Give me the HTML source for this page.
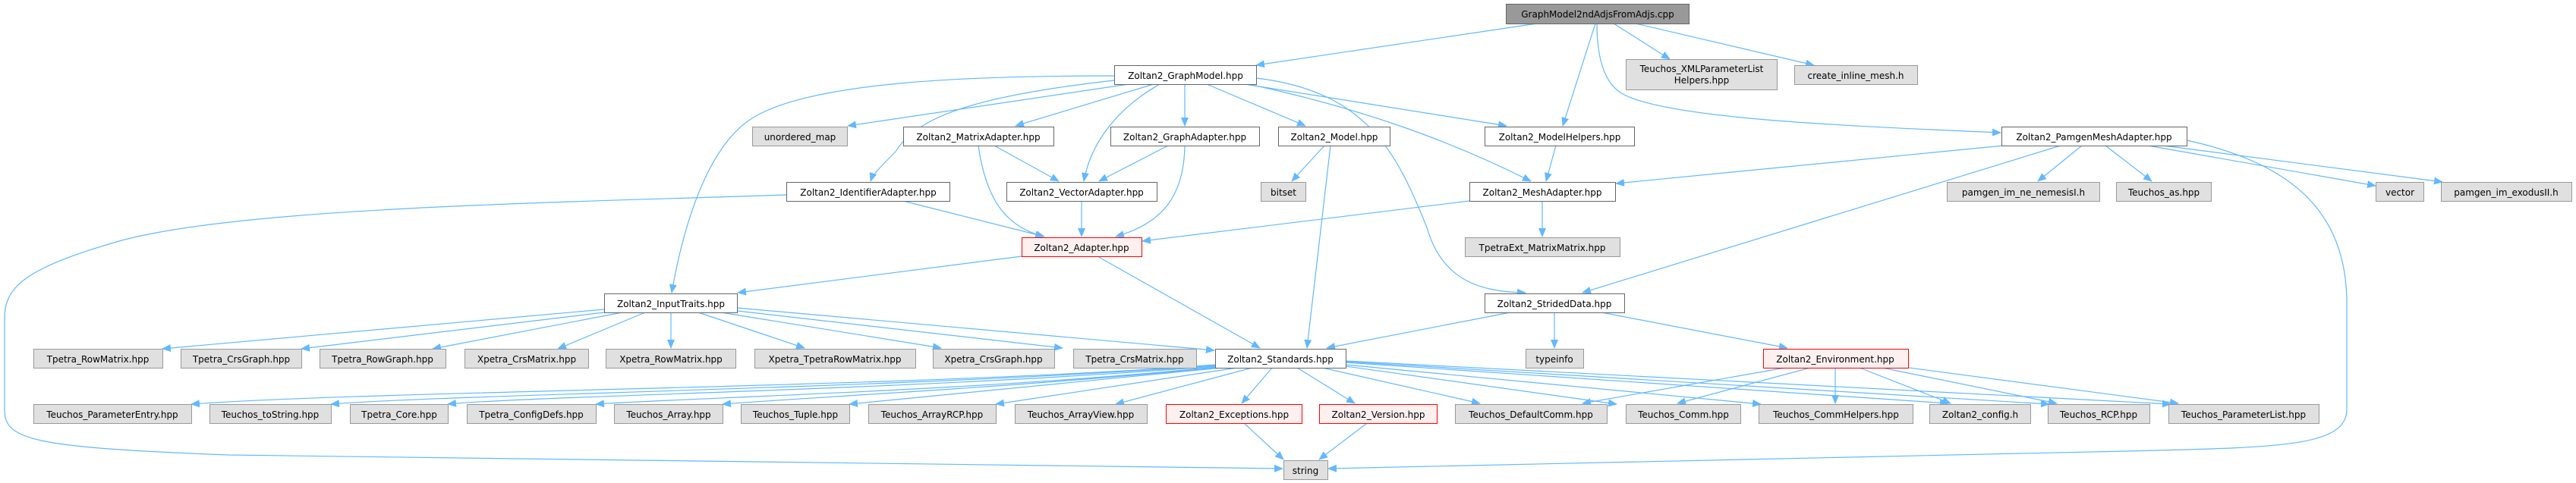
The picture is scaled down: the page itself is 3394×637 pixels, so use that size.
<!DOCTYPE html>
<html><head><meta charset="utf-8"><style>
html,body{margin:0;padding:0;background:#fff;}
svg{display:block;}
text{font-family:"DejaVu Sans","Liberation Sans",sans-serif;font-size:12px;fill:#000;text-anchor:middle;}
.w{fill:#fff;stroke:#666;stroke-width:1}
.g{fill:#e0e0e0;stroke:#999;stroke-width:1}
.r{fill:#fff0f0;stroke:#f00;stroke-width:1}
.k{fill:#999;stroke:#666;stroke-width:1}
path{fill:none;stroke:#63b8ff;stroke-width:1.2;marker-end:url(#a)}
</style></head><body>
<svg width="3394" height="637" viewBox="0 0 3394 637" xmlns="http://www.w3.org/2000/svg">
<defs><marker id="a" markerUnits="userSpaceOnUse" markerWidth="12" markerHeight="10" refX="11" refY="5" orient="auto"><polygon points="0,0 12,5 0,10" fill="#63b8ff"/></marker></defs>

<!-- edges -->
<path d="M2025,31 L1655,86"/>
<path d="M2102,31 L2059,166"/>
<path d="M2126,31 L2200,78"/>
<path d="M2155,31 L2390,86"/>
<path d="M2104,31 C2104,90 2120,115 2140,125 C2200,155 2400,165 2636,175"/>

<path d="M1487,111 L1117,166"/>
<path d="M1520,111 L1338,166"/>
<path d="M1561,111 L1561,166"/>
<path d="M1528,111 C1460,150 1435,200 1428,239"/>
<path d="M1590,111 L1720,166"/>
<path d="M1640,111 L1985,166"/>
<path d="M1645,111 C1780,140 1900,180 2017,239"/>
<path d="M1655,103 C1800,120 1840,200 1880,300 C1900,370 1950,385 2010,386"/>
<path d="M1468,106 C1300,125 1210,150 1180,200 C1160,220 1150,230 1147,239"/>
<path d="M1468,100 C1300,100 1060,105 985,160 C930,200 900,300 885,386"/>

<path d="M1310,192 L1395,239"/>
<path d="M1289,192 C1300,270 1330,300 1375,312"/>
<path d="M1539,192 L1448,239"/>
<path d="M1561,192 C1560,260 1530,295 1470,312"/>
<path d="M1745,192 L1702,239"/>
<path d="M1753,192 L1722,459"/>
<path d="M2050,192 L2037,239"/>

<path d="M2640,192 L2129,242"/>
<path d="M2715,192 L2085,386"/>
<path d="M2743,192 L2685,239"/>
<path d="M2774,192 L2835,239"/>
<path d="M2830,192 L3130,245"/>
<path d="M2835,190 L3218,240"/>
<path d="M2881,185 C3020,215 3092,280 3092,400 L3092,540 C3092,590 3000,590 2800,595 C2400,605 2000,612 1750,618"/>

<path d="M1190,265 L1376,312"/>
<path d="M1036,257 C700,268 300,275 150,320 C30,355 6,380 6,420 L6,540 C6,580 40,590 300,600 C800,608 1300,614 1690,618"/>
<path d="M1425,265 L1425,312"/>
<path d="M1936,265 L1505,318"/>
<path d="M2032,265 L2032,312"/>

<path d="M1346,338 L972,386"/>
<path d="M1446,338 L1660,459"/>

<path d="M796,408 L214,460"/>
<path d="M796,412 L397,460"/>
<path d="M820,412 L570,460"/>
<path d="M850,412 L735,460"/>
<path d="M884,412 L884,459"/>
<path d="M920,412 L1060,459"/>
<path d="M950,412 L1240,459"/>
<path d="M971,410 L1400,459"/>
<path d="M971,406 L1600,462"/>

<path d="M1990,412 L1748,459"/>
<path d="M2048,412 L2048,459"/>
<path d="M2110,412 L2355,459"/>

<path d="M1601,481 C1200,512 500,515 252,533"/>
<path d="M1601,482 C1200,512 600,520 436,533"/>
<path d="M1601,483 C1200,515 700,522 590,533"/>
<path d="M1601,484 C1300,515 900,525 785,533"/>
<path d="M1601,485 C1350,510 1050,525 952,533"/>
<path d="M1610,485 L1119,533"/>
<path d="M1630,485 L1312,533"/>
<path d="M1650,485 L1470,533"/>
<path d="M1676,485 L1636,532"/>
<path d="M1709,485 L1785,532"/>
<path d="M1742,485 L1950,532"/>
<path d="M1773,483 L2130,533"/>
<path d="M1773,481 L2320,533"/>
<path d="M1773,478 L2567,532"/>
<path d="M1773,477 L2700,533"/>
<path d="M1773,476 L2860,533"/>

<path d="M2352,485 L2085,532"/>
<path d="M2385,485 L2210,532"/>
<path d="M2418,485 L2418,532"/>
<path d="M2450,485 L2570,532"/>
<path d="M2480,485 L2710,532"/>
<path d="M2500,483 L2870,532"/>

<path d="M1640,559 L1691,606"/>
<path d="M1800,559 L1738,606"/>

<!-- nodes -->
<rect class="k" x="1984.5" y="5.5" width="241" height="26"/><text x="2105" y="23">GraphModel2ndAdjsFromAdjs.cpp</text>

<rect class="w" x="1468.5" y="86.5" width="187" height="25"/><text x="1562" y="104">Zoltan2_GraphModel.hpp</text>
<rect class="g" x="2142.5" y="78.5" width="199" height="40"/><text x="2242" y="95">Teuchos_XMLParameterList</text><text x="2242" y="110">Helpers.hpp</text>
<rect class="g" x="2364.5" y="86.5" width="162" height="25"/><text x="2445" y="104">create_inline_mesh.h</text>

<rect class="g" x="991.5" y="167.5" width="125" height="25"/><text x="1054" y="185">unordered_map</text>
<rect class="w" x="1190.5" y="167.5" width="198" height="25"/><text x="1289" y="185">Zoltan2_MatrixAdapter.hpp</text>
<rect class="w" x="1463.5" y="167.5" width="196" height="25"/><text x="1561" y="185">Zoltan2_GraphAdapter.hpp</text>
<rect class="w" x="1684.5" y="167.5" width="147" height="25"/><text x="1758" y="185">Zoltan2_Model.hpp</text>
<rect class="w" x="1956.5" y="167.5" width="197" height="25"/><text x="2055" y="185">Zoltan2_ModelHelpers.hpp</text>
<rect class="w" x="2637.5" y="167.5" width="244" height="25"/><text x="2759" y="185">Zoltan2_PamgenMeshAdapter.hpp</text>

<rect class="w" x="1036.5" y="240.5" width="215" height="25"/><text x="1144" y="258">Zoltan2_IdentifierAdapter.hpp</text>
<rect class="w" x="1326.5" y="240.5" width="198" height="25"/><text x="1425" y="258">Zoltan2_VectorAdapter.hpp</text>
<rect class="g" x="1661.5" y="240.5" width="59" height="25"/><text x="1691" y="258">bitset</text>
<rect class="w" x="1936.5" y="240.5" width="192" height="25"/><text x="2032" y="258">Zoltan2_MeshAdapter.hpp</text>
<rect class="g" x="2565.5" y="240.5" width="201" height="25"/><text x="2666" y="258">pamgen_im_ne_nemesisI.h</text>
<rect class="g" x="2788.5" y="240.5" width="125" height="25"/><text x="2851" y="258">Teuchos_as.hpp</text>
<rect class="g" x="3130.5" y="240.5" width="63" height="25"/><text x="3162" y="258">vector</text>
<rect class="g" x="3216.5" y="240.5" width="172" height="25"/><text x="3302" y="258">pamgen_im_exodusII.h</text>

<rect class="r" x="1346.5" y="313.5" width="158" height="25"/><text x="1425" y="331">Zoltan2_Adapter.hpp</text>
<rect class="g" x="1930.5" y="313.5" width="204" height="25"/><text x="2032" y="331">TpetraExt_MatrixMatrix.hpp</text>

<rect class="w" x="796.5" y="387.5" width="175" height="25"/><text x="884" y="405">Zoltan2_InputTraits.hpp</text>
<rect class="w" x="1956.5" y="387.5" width="184" height="25"/><text x="2048" y="405">Zoltan2_StridedData.hpp</text>

<rect class="g" x="44.5" y="460.5" width="170" height="25"/><text x="129" y="478">Tpetra_RowMatrix.hpp</text>
<rect class="g" x="238.5" y="460.5" width="159" height="25"/><text x="318" y="478">Tpetra_CrsGraph.hpp</text>
<rect class="g" x="421.5" y="460.5" width="166" height="25"/><text x="504" y="478">Tpetra_RowGraph.hpp</text>
<rect class="g" x="612.5" y="460.5" width="163" height="25"/><text x="694" y="478">Xpetra_CrsMatrix.hpp</text>
<rect class="g" x="798.5" y="460.5" width="171" height="25"/><text x="884" y="478">Xpetra_RowMatrix.hpp</text>
<rect class="g" x="994.5" y="460.5" width="212" height="25"/><text x="1100" y="478">Xpetra_TpetraRowMatrix.hpp</text>
<rect class="g" x="1229.5" y="460.5" width="160" height="25"/><text x="1309" y="478">Xpetra_CrsGraph.hpp</text>
<rect class="g" x="1414.5" y="460.5" width="162" height="25"/><text x="1495" y="478">Tpetra_CrsMatrix.hpp</text>
<rect class="w" x="1601.5" y="460.5" width="172" height="25"/><text x="1687" y="478">Zoltan2_Standards.hpp</text>
<rect class="g" x="2010.5" y="460.5" width="76" height="25"/><text x="2048" y="478">typeinfo</text>
<rect class="r" x="2323.5" y="460.5" width="191" height="25"/><text x="2418" y="478">Zoltan2_Environment.hpp</text>

<rect class="g" x="44.5" y="533.5" width="208" height="25"/><text x="148" y="551">Teuchos_ParameterEntry.hpp</text>
<rect class="g" x="276.5" y="533.5" width="160" height="25"/><text x="356" y="551">Teuchos_toString.hpp</text>
<rect class="g" x="461.5" y="533.5" width="129" height="25"/><text x="526" y="551">Tpetra_Core.hpp</text>
<rect class="g" x="615.5" y="533.5" width="170" height="25"/><text x="700" y="551">Tpetra_ConfigDefs.hpp</text>
<rect class="g" x="809.5" y="533.5" width="143" height="25"/><text x="881" y="551">Teuchos_Array.hpp</text>
<rect class="g" x="976.5" y="533.5" width="143" height="25"/><text x="1048" y="551">Teuchos_Tuple.hpp</text>
<rect class="g" x="1144.5" y="533.5" width="168" height="25"/><text x="1228" y="551">Teuchos_ArrayRCP.hpp</text>
<rect class="g" x="1337.5" y="533.5" width="174" height="25"/><text x="1424" y="551">Teuchos_ArrayView.hpp</text>
<rect class="r" x="1536.5" y="533.5" width="179" height="25"/><text x="1626" y="551">Zoltan2_Exceptions.hpp</text>
<rect class="r" x="1738.5" y="533.5" width="155" height="25"/><text x="1816" y="551">Zoltan2_Version.hpp</text>
<rect class="g" x="1917.5" y="533.5" width="200" height="25"/><text x="2017" y="551">Teuchos_DefaultComm.hpp</text>
<rect class="g" x="2142.5" y="533.5" width="151" height="25"/><text x="2218" y="551">Teuchos_Comm.hpp</text>
<rect class="g" x="2317.5" y="533.5" width="203" height="25"/><text x="2419" y="551">Teuchos_CommHelpers.hpp</text>
<rect class="g" x="2542.5" y="533.5" width="133" height="25"/><text x="2609" y="551">Zoltan2_config.h</text>
<rect class="g" x="2698.5" y="533.5" width="134" height="25"/><text x="2765" y="551">Teuchos_RCP.hpp</text>
<rect class="g" x="2857.5" y="533.5" width="198" height="25"/><text x="2956" y="551">Teuchos_ParameterList.hpp</text>

<rect class="g" x="1691.5" y="607.5" width="58" height="25"/><text x="1720" y="625">string</text>
</svg>
</body></html>
